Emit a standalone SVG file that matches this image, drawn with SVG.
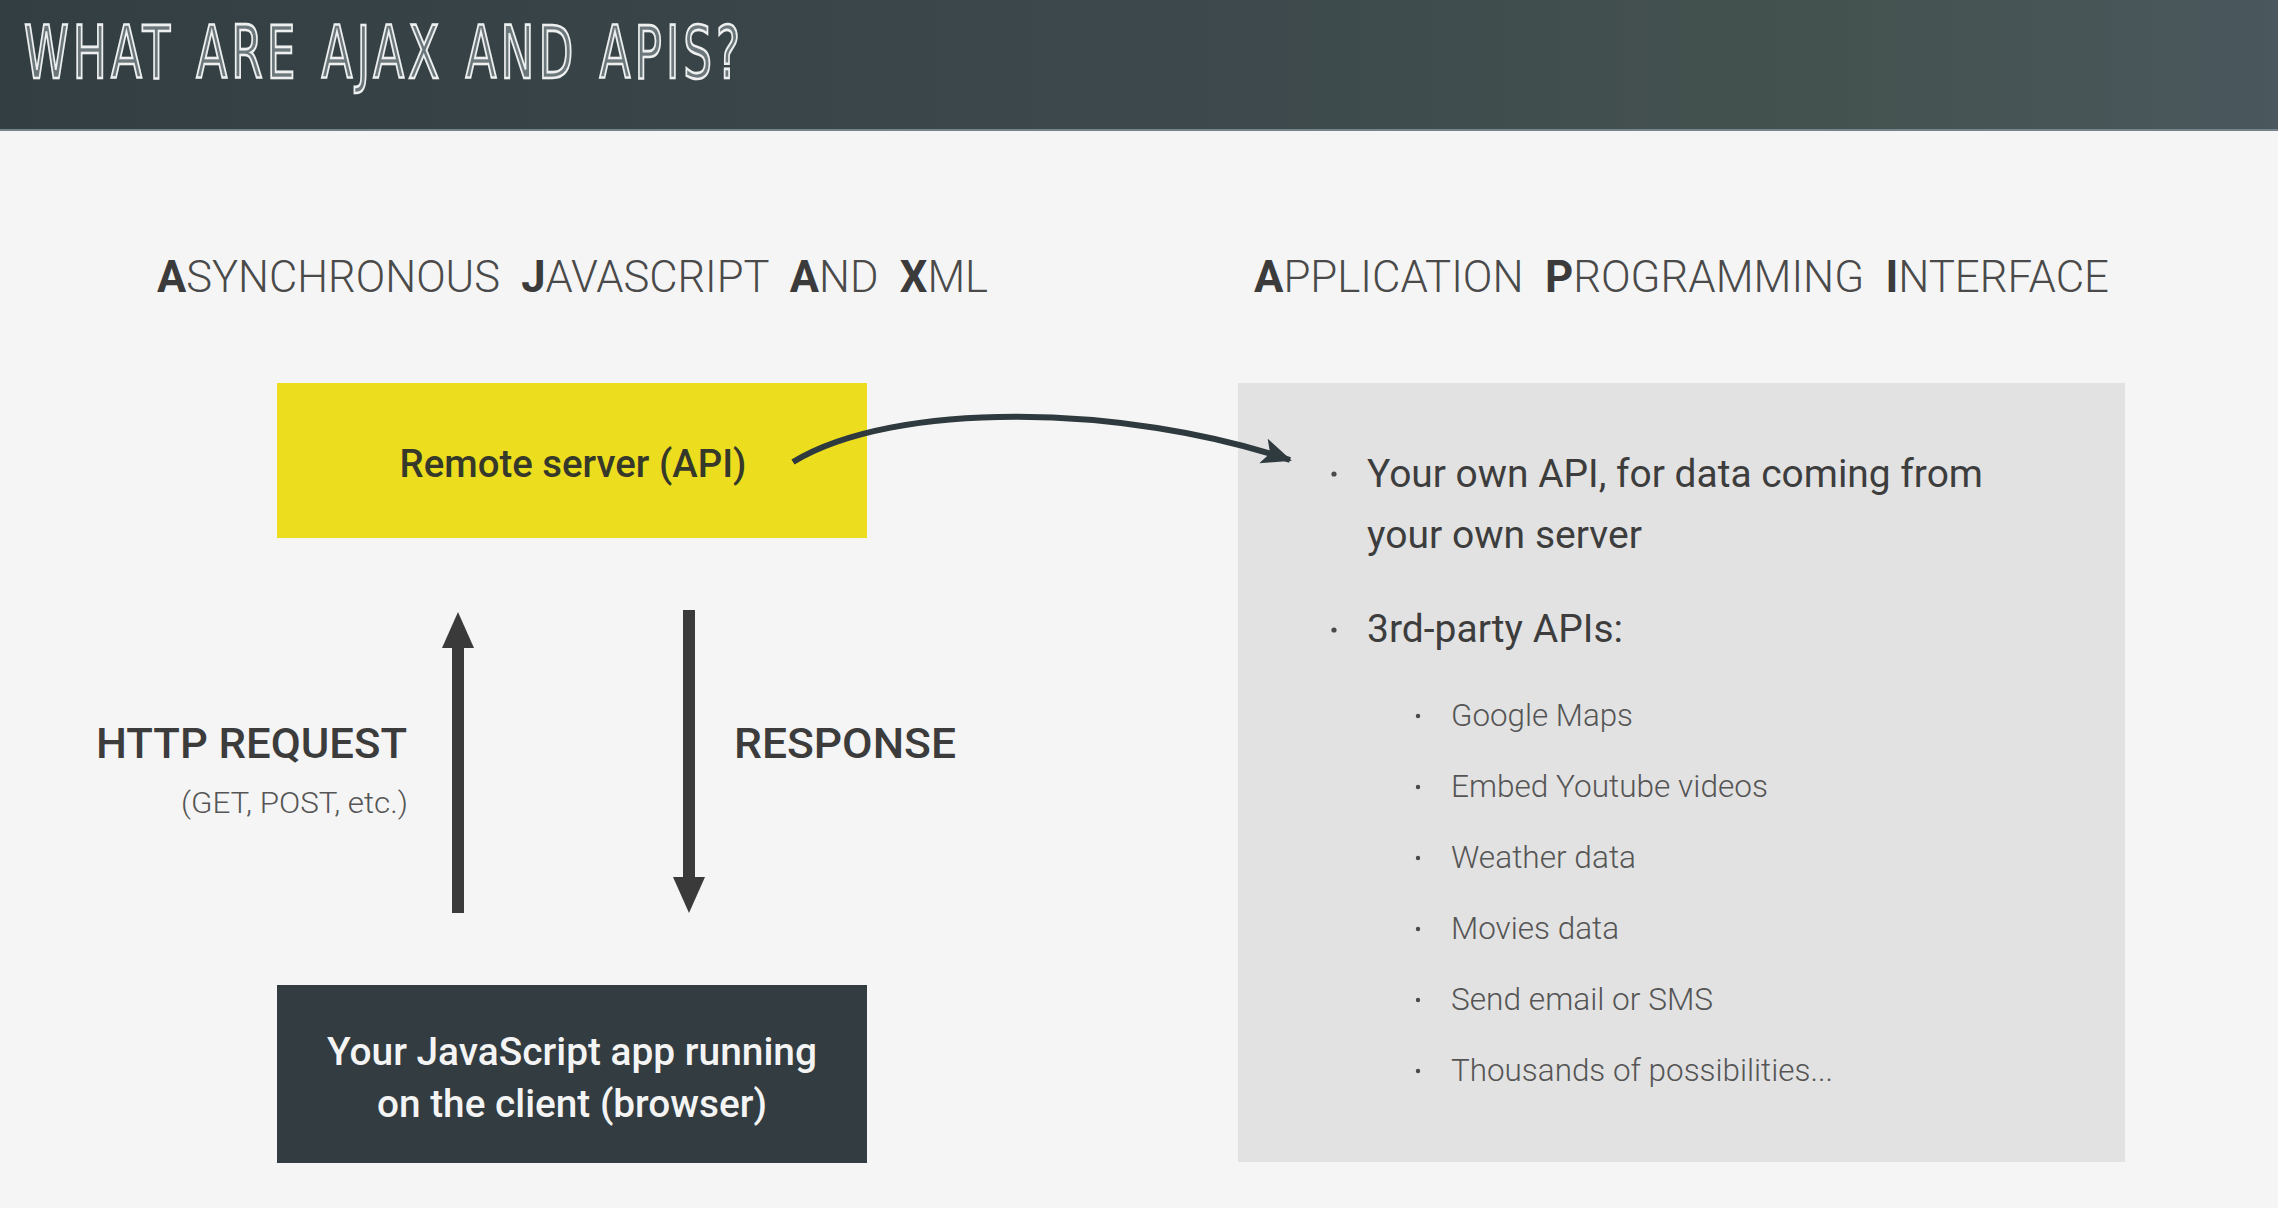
<svg xmlns="http://www.w3.org/2000/svg" width="2278" height="1208" viewBox="0 0 2278 1208">
  <defs>
    <linearGradient id="hdr" x1="0" y1="0" x2="1" y2="0">
      <stop offset="0" stop-color="#333e43"/>
      <stop offset="0.5" stop-color="#3c484c"/>
      <stop offset="0.8" stop-color="#44524f"/>
      <stop offset="1" stop-color="#4a575d"/>
    </linearGradient>
    <marker id="curveHead" markerUnits="userSpaceOnUse" markerWidth="34" markerHeight="30" refX="28" refY="13" orient="auto">
      <path d="M0,0 L30,13 L0,26 L7,13 Z" fill="#2f3a3f"/>
    </marker>
    <style>
      .title { font-family: "DejaVu Sans", "Liberation Sans", sans-serif; font-size: 73px; fill: #6c777c; stroke: #eef0f0; stroke-width: 2.2px; word-spacing: 6px; }
      .heading { font-family: Roboto, "Liberation Sans", sans-serif; font-size: 44px; font-weight: 300; fill: #4a4a4a; }
      .heading .cap { font-weight: 700; fill: #3b3b3b; }
      .nodeText { font-family: Roboto, "Liberation Sans", sans-serif; font-size: 38px; font-weight: 500; text-anchor: middle; }
      .label { font-family: Roboto, "Liberation Sans", sans-serif; font-size: 42px; font-weight: 500; fill: #3c3c3c; }
      .sublabel { font-family: Roboto, "Liberation Sans", sans-serif; font-size: 30px; font-weight: 300; fill: #555555; }
      .item { font-family: Roboto, "Liberation Sans", sans-serif; font-size: 38px; font-weight: 400; fill: #3d3d3d; }
      .subitem { font-family: Roboto, "Liberation Sans", sans-serif; font-size: 31px; font-weight: 300; fill: #555555; }
      .dot { fill: #4a4a4a; }
      .arrow { fill: #3a3a3a; }
    </style>
  </defs>

  <!-- page background -->
  <rect x="0" y="0" width="2278" height="1208" fill="#f5f5f5"/>

  <!-- title bar -->
  <g id="header">
    <rect x="0" y="0" width="2278" height="131" fill="url(#hdr)"/>
    <rect x="0" y="129" width="2278" height="2" fill="#76838a"/>
    <!-- narrow, tall outlined lettering: glyphs squeezed horizontally, gaps stretched -->
    <g transform="translate(24,78) scale(0.62,1)">
      <text class="title" x="0" y="0" textLength="1155" lengthAdjust="spacing" vector-effect="non-scaling-stroke">WHAT ARE AJAX AND APIS?</text>
    </g>
  </g>

  <!-- section headings -->
  <g id="heading-ajax">
    <text class="heading" xml:space="preserve" x="157" y="292" textLength="831" lengthAdjust="spacingAndGlyphs"><tspan class="cap">A</tspan>SYNCHRONOUS  <tspan class="cap">J</tspan>AVASCRIPT  <tspan class="cap">A</tspan>ND  <tspan class="cap">X</tspan>ML</text>
  </g>
  <g id="heading-api">
    <text class="heading" xml:space="preserve" x="1254" y="292" textLength="855" lengthAdjust="spacingAndGlyphs"><tspan class="cap">A</tspan>PPLICATION  <tspan class="cap">P</tspan>ROGRAMMING  <tspan class="cap">I</tspan>NTERFACE</text>
  </g>

  <!-- remote server node -->
  <g id="node-server">
    <rect x="277" y="383" width="590" height="155" fill="#ecde1f"/>
    <text class="nodeText" x="573" y="477" fill="#36392a" textLength="347" lengthAdjust="spacingAndGlyphs">Remote server (API)</text>
  </g>

  <!-- client app node -->
  <g id="node-client">
    <rect x="277" y="985" width="590" height="178" fill="#323c41"/>
    <text class="nodeText" x="572" y="1065" fill="#f4f4f4" textLength="490" lengthAdjust="spacingAndGlyphs">Your JavaScript app running</text>
    <text class="nodeText" x="572" y="1117" fill="#f4f4f4" textLength="390" lengthAdjust="spacingAndGlyphs">on the client (browser)</text>
  </g>

  <!-- API kinds panel -->
  <g id="node-api-panel">
    <rect x="1238" y="383" width="887" height="779" fill="#e2e2e2"/>
    <circle class="dot" cx="1334" cy="474" r="2.6"/>
    <text class="item" x="1367" y="487" textLength="616" lengthAdjust="spacingAndGlyphs">Your own API, for data coming from</text>
    <text class="item" x="1367" y="548" textLength="275" lengthAdjust="spacingAndGlyphs">your own server</text>
    <circle class="dot" cx="1334" cy="630" r="2.6"/>
    <text class="item" x="1367" y="642" textLength="256" lengthAdjust="spacingAndGlyphs">3rd-party APIs:</text>

    <circle class="dot" cx="1418" cy="716" r="2.2"/>
    <text class="subitem" x="1451" y="726" textLength="182" lengthAdjust="spacingAndGlyphs">Google Maps</text>
    <circle class="dot" cx="1418" cy="787" r="2.2"/>
    <text class="subitem" x="1451" y="797" textLength="317" lengthAdjust="spacingAndGlyphs">Embed Youtube videos</text>
    <circle class="dot" cx="1418" cy="858" r="2.2"/>
    <text class="subitem" x="1451" y="868" textLength="185" lengthAdjust="spacingAndGlyphs">Weather data</text>
    <circle class="dot" cx="1418" cy="929" r="2.2"/>
    <text class="subitem" x="1451" y="939" textLength="168" lengthAdjust="spacingAndGlyphs">Movies data</text>
    <circle class="dot" cx="1418" cy="1000" r="2.2"/>
    <text class="subitem" x="1451" y="1010" textLength="262" lengthAdjust="spacingAndGlyphs">Send email or SMS</text>
    <circle class="dot" cx="1418" cy="1071" r="2.2"/>
    <text class="subitem" x="1451" y="1081" textLength="382" lengthAdjust="spacingAndGlyphs">Thousands of possibilities...</text>
  </g>

  <!-- connectors -->
  <g id="connectors">
    <!-- request: client up to server -->
    <rect class="arrow" x="452" y="645" width="12" height="268"/>
    <polygon class="arrow" points="458,612 442,648 474,648"/>
    <!-- response: server down to client -->
    <rect class="arrow" x="683" y="610" width="12" height="270"/>
    <polygon class="arrow" points="689,913 673,877 705,877"/>
    <!-- server to API panel -->
    <path d="M793,462 C895,400 1125,404 1290,460" fill="none" stroke="#2f3a3f" stroke-width="6" marker-end="url(#curveHead)"/>
  </g>

  <!-- connector labels -->
  <g id="labels">
    <text class="label" x="96" y="758" textLength="311" lengthAdjust="spacingAndGlyphs">HTTP REQUEST</text>
    <text class="sublabel" x="408" y="813" text-anchor="end" textLength="227" lengthAdjust="spacingAndGlyphs">(GET, POST, etc.)</text>
    <text class="label" x="734" y="758" textLength="222" lengthAdjust="spacingAndGlyphs">RESPONSE</text>
  </g>
</svg>
